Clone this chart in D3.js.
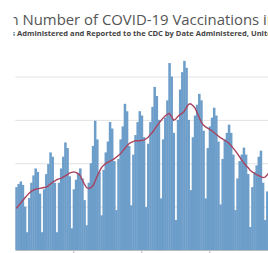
<!DOCTYPE html>
<html>
<head>
<meta charset="utf-8">
<script src="https://cdn.jsdelivr.net/npm/d3@7"></script>
<style>
  html, body { margin: 0; padding: 0; background: #fff; overflow: hidden; }
  svg { display: block; font-family: "Open Sans", sans-serif; }
</style>
</head>
<body>
<svg width="268" height="253"></svg>
<script>
var svg_width = 268
var svg_height = 253

// days shown, Tue 19 Jan 2021 to Tue 18 May 2021
var days = d3.timeDay.range(new Date(2021, 0, 19), new Date(2021, 4, 19));

// daily doses administered (millions)
var dailyDoses = [
    1.45, 1.52, 1.58, 1.50, 1.00, 0.41,
    1.20, 1.55, 1.72, 1.88, 1.80, 1.30, 0.41,
    1.40, 1.75, 1.98, 2.25, 2.15, 1.55, 0.41,
    1.55, 1.88, 2.15, 2.48, 2.35, 1.70, 0.50,
    1.40, 1.62, 1.78, 1.88, 1.65, 1.15, 0.57,
    1.55, 2.00, 2.40, 2.98, 2.55, 1.80, 0.80,
    1.85, 2.25, 2.50, 2.95, 2.80, 2.05, 0.92,
    2.10, 2.55, 2.85, 3.37, 3.20, 2.40, 1.03,
    2.20, 2.65, 2.95, 3.20, 3.10, 2.60, 0.99,
    2.45, 2.95, 3.30, 3.76, 3.55, 3.00, 1.19,
    2.55, 3.05, 3.45, 4.31, 4.00, 2.70, 0.69,
    3.00, 3.70, 4.10, 4.36, 4.20, 3.00, 1.38,
    2.60, 3.10, 3.35, 3.60, 3.45, 2.75, 1.19,
    2.35, 2.85, 3.05, 3.28, 3.10, 2.50, 1.05,
    2.10, 2.55, 2.70, 2.89, 2.70, 2.20, 0.92,
    1.65, 2.05, 2.20, 2.36, 2.20, 1.75, 0.53,
    1.45, 1.80, 1.95, 2.15, 2.29, 1.55, 0.69,
    1.35, 1.75
];

// 7-day moving average (millions)
var avg7 = [
    0.96, 1.02, 1.08, 1.14, 1.20, 1.26,
    1.31, 1.35, 1.38, 1.40, 1.41, 1.42, 1.43,
    1.44, 1.45, 1.48, 1.52, 1.56, 1.59, 1.62,
    1.64, 1.65, 1.68, 1.71, 1.74, 1.77, 1.79,
    1.80, 1.79, 1.76, 1.72, 1.62, 1.52, 1.44,
    1.42, 1.43, 1.48, 1.58, 1.70, 1.80, 1.90,
    1.95, 1.99, 2.02, 2.05, 2.07, 2.10, 2.14,
    2.18, 2.22, 2.28, 2.34, 2.40, 2.45, 2.48,
    2.50, 2.52, 2.52, 2.52, 2.53, 2.54, 2.56,
    2.60, 2.66, 2.71, 2.78, 2.85, 2.92, 2.98,
    3.04, 3.09, 3.13, 3.15, 3.08, 2.99, 3.02,
    3.08, 3.12, 3.15, 3.20, 3.28, 3.36, 3.37,
    3.33, 3.28, 3.18, 3.06, 2.95, 2.88, 2.84,
    2.81, 2.78, 2.75, 2.71, 2.67, 2.63, 2.59,
    2.56, 2.53, 2.50, 2.46, 2.41, 2.35, 2.29,
    2.22, 2.15, 2.08, 2.01, 1.95, 1.90, 1.84,
    1.80, 1.77, 1.74, 1.72, 1.69, 1.67, 1.68,
    1.73, 1.79
];

var yTicks = [0, 1, 2, 3, 4];
var xTickDates = [new Date(2021, 1, 15), new Date(2021, 2, 19), new Date(2021, 3, 20)];

var dataset = days.map(function(d, i) {
    return { date: d, doses: dailyDoses[i], avg: avg7[i] };
});

var plotLeft = 15.3
var dayWidth = 2.125
var baseY = 250

//SCALES
var xScale = d3.scaleBand()
               .domain(days.map(function(d) { return +d; }))
               .range([plotLeft, plotLeft + days.length * dayWidth])
               .padding(0);

var yScale = d3.scaleLinear()
               .domain([0, 4])
               .range([baseY, 76.5]);

var svg = d3.select("svg")
      .attr("width", svg_width)
      .attr("height", svg_height);

// the picture is cut just left of the plot
svg.append("clipPath")
      .attr("id", "cut")
    .append("rect")
      .attr("x", 13.5)
      .attr("y", 0)
      .attr("width", svg_width)
      .attr("height", svg_height);

// gridlines
var yAxis = d3.axisLeft(yScale)
              .tickValues(yTicks)
              .tickSize(-(svg_width - plotLeft))
              .tickFormat("");

svg.append("g")
      .attr("transform", "translate(" + plotLeft + ", 0)")
    .call(yAxis)
    .call(function(g) { g.select(".domain").remove(); })
    .selectAll("line")
      .attr("stroke", "#e2e2e2");

// bars
svg.append("g")
    .selectAll("rect")
    .data(dataset)
    .enter()
    .append("rect")
      .attr("x", function(d) { return xScale(+d.date); })
      .attr("y", function(d) { return yScale(d.doses); })
      .attr("width", xScale.bandwidth() + 0.4)
      .attr("height", function(d) { return baseY - yScale(d.doses); })
      .attr("fill", "#6d9eca");

// 7-day average line
var line = d3.line()
             .x(function(d) { return xScale(+d.date) + xScale.bandwidth() / 2; })
             .y(function(d) { return yScale(d.avg); });

svg.append("path")
      .datum(dataset)
      .attr("d", line)
      .attr("fill", "none")
      .attr("stroke", "#a8435f")
      .attr("stroke-width", 1.4);

// x axis (its labels fall below the picture)
var xAxis = d3.axisBottom(xScale)
              .tickValues(xTickDates.map(function(d) { return +d; }))
              .tickSize(3)
              .tickSizeOuter(0)
              .tickFormat("");

var gx = svg.append("g")
      .attr("transform", "translate(0, " + baseY + ")")
    .call(xAxis);
gx.select(".domain").attr("stroke", "#bbbbbb");
gx.selectAll("line").attr("stroke", "#bbbbbb");

// title and subtitle, cut at the left like the reference
var texts = svg.append("g").attr("clip-path", "url(#cut)");

var title = texts.append("text")
      .attr("y", 25)
      .attr("font-size", "14.9px")
      .attr("fill", "#555");
var pre = title.append("tspan").text("Trends in ");
title.append("tspan").text("Number of COVID-19 Vaccinations in the US");
title.attr("x", 22.5 - pre.node().getComputedTextLength());

var sub = texts.append("text")
      .attr("y", 36)
      .attr("font-size", "7.55px")
      .attr("font-weight", "bold")
      .attr("fill", "#444");
var subPre = sub.append("tspan").text("Daily Count of Total Doses ");
sub.append("tspan").text("Administered and Reported to the CDC by Date Administered, United States");
sub.attr("x", 17 - subPre.node().getComputedTextLength());
</script>
</body>
</html>
